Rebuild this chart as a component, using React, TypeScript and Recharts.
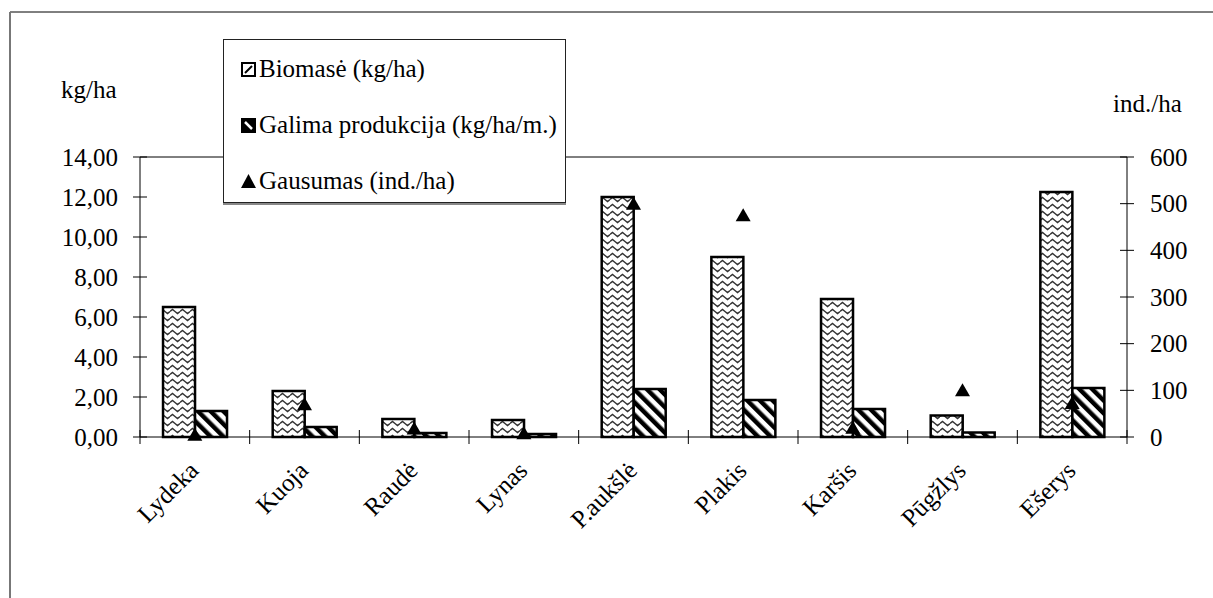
import React from "react";
import { ComposedChart, Bar, Scatter, XAxis, YAxis, Legend, ReferenceLine } from "recharts";

const categories = ["Lydeka", "Kuoja", "Raudė", "Lynas", "P.aukšlė", "Plakis", "Karšis", "Pūgžlys", "Ešerys"];
const biomase = [6.5, 2.3, 0.9, 0.85, 12.0, 9.0, 6.9, 1.07, 12.25];
const produkcija = [1.3, 0.5, 0.2, 0.15, 2.4, 1.85, 1.4, 0.22, 2.45];
const gausumas = [5, 70, 18, 8, 500, 475, 20, 100, 73];
const seriesNames = ["Biomasė (kg/ha)", "Galima produkcija (kg/ha/m.)", "Gausumas (ind./ha)"];
const leftTicks = [0, 2, 4, 6, 8, 10, 12, 14];
const rightTicks = [0, 100, 200, 300, 400, 500, 600];

const FONT = '"Liberation Serif", "Times New Roman", Times, serif';
const FS = 25;
const TICK = 7;
const LEFT_GAP = 15;
const RIGHT_GAP = 16;
const BOTTOM_GAP = 28;

const data = categories.map((name, i) => ({
  name,
  biomase: biomase[i],
  produkcija: produkcija[i],
  gausumas: gausumas[i],
}));

// cross ticks on both value axes, like the old spreadsheet chart
function LeftTick(props: any) {
  const { x, y, payload } = props;
  const axisX = x + LEFT_GAP + TICK;
  return (
    <g>
      <line x1={axisX - TICK} x2={axisX + TICK} y1={y} y2={y} stroke="#000" />
      <text x={x} y={y} dy="0.34em" textAnchor="end" fontFamily={FONT} fontSize={FS} fill="#000">
        {Number(payload.value).toFixed(2).replace(".", ",")}
      </text>
    </g>
  );
}

function RightTick(props: any) {
  const { x, y, payload } = props;
  const axisX = x - RIGHT_GAP - TICK;
  return (
    <g>
      <line x1={axisX - TICK} x2={axisX + TICK} y1={y} y2={y} stroke="#000" />
      <text x={x} y={y} dy="0.34em" textAnchor="start" fontFamily={FONT} fontSize={FS} fill="#000">
        {payload.value}
      </text>
    </g>
  );
}

function BottomTick(props: any) {
  const { x, y, payload, index, visibleTicksCount } = props;
  const axisY = y - BOTTOM_GAP - TICK;
  const half = payload.offset || 987 / 18;
  const left = payload.coordinate - half;
  const right = payload.coordinate + half;
  return (
    <g>
      <line x1={left} x2={left} y1={axisY - TICK} y2={axisY + TICK} stroke="#000" />
      {index === visibleTicksCount - 1 && (
        <line x1={right} x2={right} y1={axisY - TICK} y2={axisY + TICK} stroke="#000" />
      )}
      <text
        x={x + 5}
        y={y}
        textAnchor="end"
        transform={`rotate(-45, ${x + 5}, ${y})`}
        fontFamily={FONT}
        fontSize={FS}
        fill="#000"
      >
        {payload.value}
      </text>
    </g>
  );
}

function Triangle(props: any) {
  const { cx, cy } = props;
  return <polygon points={`${cx},${cy - 7} ${cx + 7.5},${cy + 6} ${cx - 7.5},${cy + 6}`} fill="#000" />;
}

function LegendIcon({ index }: { index: number }) {
  if (index === 0) {
    return (
      <svg width={15} height={15}>
        <rect x={1} y={1} width={13} height={13} fill="#fff" stroke="#000" strokeWidth={2} />
        <line x1={4} y1={11} x2={11} y2={4} stroke="#000" strokeWidth={2} />
      </svg>
    );
  }
  if (index === 1) {
    return (
      <svg width={15} height={15}>
        <rect x={0} y={0} width={15} height={15} fill="#000" />
        <line x1={4} y1={4} x2={11} y2={11} stroke="#fff" strokeWidth={2.5} />
      </svg>
    );
  }
  return (
    <svg width={15} height={15}>
      <polygon points="7.5,0 15,14 0,14" fill="#000" />
    </svg>
  );
}

function LegendBox(props: any) {
  const payload = props.payload || [];
  return (
    <div
      style={{
        background: "#fff",
        border: "1px solid #222",
        boxShadow: "0 2px 0 #888",
        height: 164,
        boxSizing: "border-box",
        paddingTop: 1,
      }}
    >
      {payload.map((entry: any, i: number) => (
        <div key={i} style={{ display: "flex", alignItems: "center", height: 56, paddingLeft: 17 }}>
          <LegendIcon index={i} />
          <span style={{ fontFamily: FONT, fontSize: FS, color: "#000", marginLeft: 3, whiteSpace: "nowrap" }}>
            {entry.value}
          </span>
        </div>
      ))}
    </div>
  );
}

export default function App() {
  return (
    <div
      style={{
        position: "fixed",
        left: 0,
        top: 0,
        width: 1213,
        height: 598,
        overflow: "hidden",
        background: "#fff",
      }}
    >
      <svg width={1213} height={598} style={{ position: "absolute", left: 0, top: 0 }}>
        <line x1={10} y1={12} x2={1213} y2={12} stroke="#000" strokeWidth={1} />
        <line x1={10} y1={12} x2={10} y2={598} stroke="#777" strokeWidth={2} />
        <text x={61} y={98} fontFamily={FONT} fontSize={FS} fill="#000">kg/ha</text>
        <text x={1113} y={112} fontFamily={FONT} fontSize={FS} fill="#000">ind./ha</text>
      </svg>
      <div style={{ position: "absolute", left: 0, top: 0 }}>
        <ComposedChart
          width={1213}
          height={598}
          data={data}
          margin={{ top: 157, right: 0, bottom: 0, left: 0 }}
          barCategoryGap="21%"
          barGap={0}
        >
          <defs>
            <pattern id="wave" patternUnits="userSpaceOnUse" width={10} height={7}>
              <rect width={10} height={7} fill="#fff" />
              <path d="M0,3.5 L2.5,1.5 L5,3.5 L7.5,5.5 L10,3.5" fill="none" stroke="#333" strokeWidth={1.5} />
            </pattern>
            <pattern id="diag" patternUnits="userSpaceOnUse" width={9} height={9} patternTransform="rotate(-45)">
              <rect width={9} height={9} fill="#fff" />
              <rect width={4.5} height={9} fill="#000" />
            </pattern>
          </defs>
          <XAxis
            dataKey="name"
            height={161}
            interval={0}
            axisLine={{ stroke: "#000" }}
            tickLine={false}
            tickSize={TICK}
            tickMargin={BOTTOM_GAP}
            tick={<BottomTick />}
          />
          <YAxis
            yAxisId="left"
            orientation="left"
            width={140}
            domain={[0, 14]}
            ticks={leftTicks}
            interval={0}
            axisLine={{ stroke: "#000" }}
            tickLine={false}
            tickSize={TICK}
            tickMargin={LEFT_GAP}
            tick={<LeftTick />}
          />
          <YAxis
            yAxisId="right"
            orientation="right"
            width={86}
            domain={[0, 600]}
            ticks={rightTicks}
            interval={0}
            axisLine={{ stroke: "#000" }}
            tickLine={false}
            tickSize={TICK}
            tickMargin={RIGHT_GAP}
            tick={<RightTick />}
          />
          <ReferenceLine yAxisId="left" y={14} stroke="#000" />
          <Bar
            yAxisId="left"
            dataKey="biomase"
            name={seriesNames[0]}
            fill="url(#wave)"
            stroke="#000"
            strokeWidth={2.5}
            isAnimationActive={false}
          />
          <Bar
            yAxisId="left"
            dataKey="produkcija"
            name={seriesNames[1]}
            fill="url(#diag)"
            stroke="#000"
            strokeWidth={2.5}
            isAnimationActive={false}
          />
          <Scatter
            yAxisId="right"
            dataKey="gausumas"
            name={seriesNames[2]}
            shape={<Triangle />}
            isAnimationActive={false}
          />
          <Legend
            layout="vertical"
            align="center"
            verticalAlign="middle"
            content={<LegendBox />}
            wrapperStyle={{ left: 223, top: 39, width: 343, height: 166 }}
          />
        </ComposedChart>
      </div>
    </div>
  );
}
